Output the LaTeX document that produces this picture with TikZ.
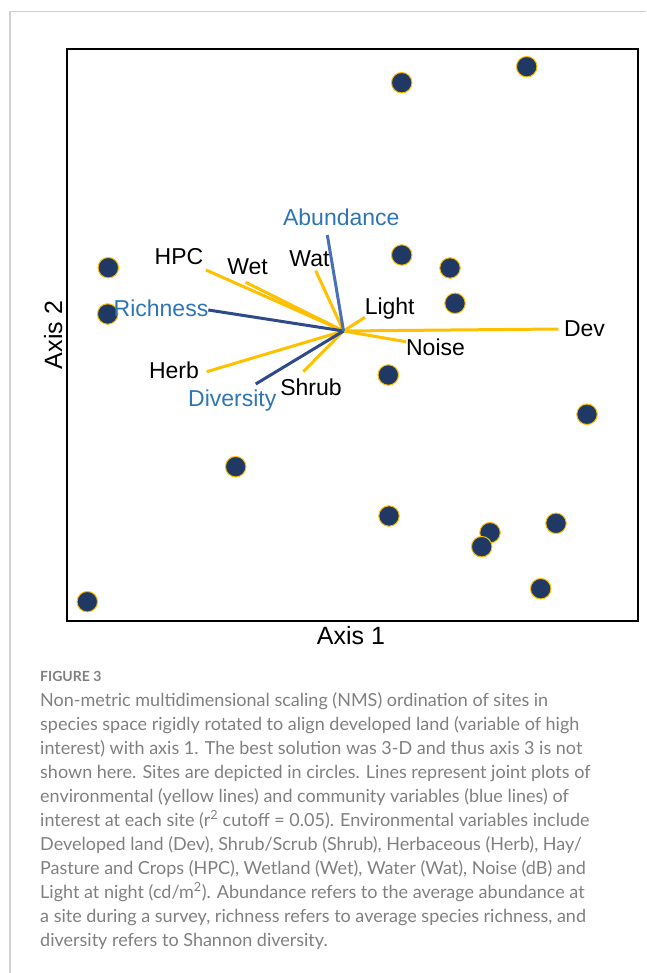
\documentclass[tikz,border=0pt]{standalone}
\usepackage{fontspec}
\setmainfont{Liberation Sans}
\newfontfamily\capfont{Lato}
\usetikzlibrary{positioning}
\definecolor{envgold}{HTML}{FFC000}
\definecolor{sitenavy}{HTML}{203864}
\definecolor{comnavy}{HTML}{2F4A8A}
\definecolor{abdblue}{HTML}{4A6FB8}
\definecolor{comblue}{HTML}{2E75B6}
\definecolor{capgray}{HTML}{808080}
\definecolor{rulegray}{HTML}{D0D0D0}

\tikzset{
  site/.style={circle,fill=sitenavy,draw=envgold,line width=1pt,minimum size=20.5pt,inner sep=0pt},
  envline/.style={envgold,line width=3pt},
  comline/.style={comnavy,line width=3pt},
  envlab/.style={font=\fontsize{23}{27}\selectfont,anchor=base,inner sep=0pt},
  comlab/.style={envlab,text=comblue},
  axlab/.style={font=\fontsize{25}{29}\selectfont,anchor=base,inner sep=0pt},
  captext/.style={font=\capfont\fontsize{18}{24}\selectfont,text=capgray,align=left,inner sep=0pt},
}

\begin{document}
\begin{tikzpicture}[x=1pt,y=-1pt]
  \useasboundingbox (0,0) rectangle (646,973);
  % page rules
  \draw[rulegray,line width=1.5pt] (10,973) -- (10,11.5) -- (646,11.5);
  % ordination frame
  \draw[line width=2.6pt] (67,49) rectangle (638,621);
  \node[axlab] (ax1) at (351,644) {Axis 1};
  \node[axlab,rotate=90] (ax2) at (62,335) {Axis 2};

  % sites
  \foreach \px/\py [count=\i] in {108.3/267.7, 107.7/314, 401.7/82.7, 526.7/66.7,
      401.7/255, 450/268, 455/303.3, 235.7/466.7, 87.3/601.7, 388.3/375,
      587/414.3, 389/516, 490/532.7, 481.7/546.7, 556/523.3, 540.7/588.7}
    \node[site] (s\i) at (\px,\py) {};

  % joint plot vectors
  \coordinate (o) at (343.5,331);
  \foreach \v/\ex/\ey in {Dev/558.3/329, Noise/406/341.7, Light/365/317.3,
      Wat/315.7/270.7, Wet/245.7/282.3, HPC/206/270, Herb/206.7/371.7, Shrub/303.3/371.7}
  {
    \coordinate (e\v) at (\ex,\ey);
    \draw[envline] (o) -- (e\v);
  }
  \foreach \v/\ex/\ey in {Richness/208.3/310, Diversity/255.7/384}
  {
    \coordinate (e\v) at (\ex,\ey);
    \draw[comline] (o) -- (e\v);
  }
  \coordinate (eAbundance) at (327.3,235);
  \draw[comline,abdblue] (o) -- (eAbundance);

  % vector labels
  \foreach \v/\lx/\ly in {Dev/584.5/336, Noise/435.5/355.5, Light/389.7/314,
      Wat/309.5/266.5, Wet/247.5/275, HPC/179/264.5, Herb/174/378.5, Shrub/311/395}
    \node[envlab] (l\v) at (\lx,\ly) {\v};
  \foreach \v/\lx/\ly in {Abundance/341.3/225.5, Richness/161/316.5, Diversity/232.3/406.5}
    \node[comlab] (l\v) at (\lx,\ly) {\v};

  % caption
  \node[captext,font=\capfont\bfseries\fontsize{14}{17}\selectfont,anchor=base west] (fig) at (40,681.7) {FIGURE 3};
  \node[captext,anchor=north west] (cap) at (40,692) {Non-metric multidimensional scaling (NMS) ordination of sites in\\
species space rigidly rotated to align developed land (variable of high\\
interest) with axis 1. The best solution was 3-D and thus axis 3 is not\\
shown here. Sites are depicted in circles. Lines represent joint plots of\\
environmental (yellow lines) and community variables (blue lines) of\\
interest at each site (r\textsuperscript{2} cutoff = 0.05). Environmental variables include\\
Developed land (Dev), Shrub/Scrub (Shrub), Herbaceous (Herb), Hay/\\
Pasture and Crops (HPC), Wetland (Wet), Water (Wat), Noise (dB) and\\
Light at night (cd/m\textsuperscript{2}). Abundance refers to the average abundance at\\
a site during a survey, richness refers to average species richness, and\\
diversity refers to Shannon diversity.};
\end{tikzpicture}
\end{document}
